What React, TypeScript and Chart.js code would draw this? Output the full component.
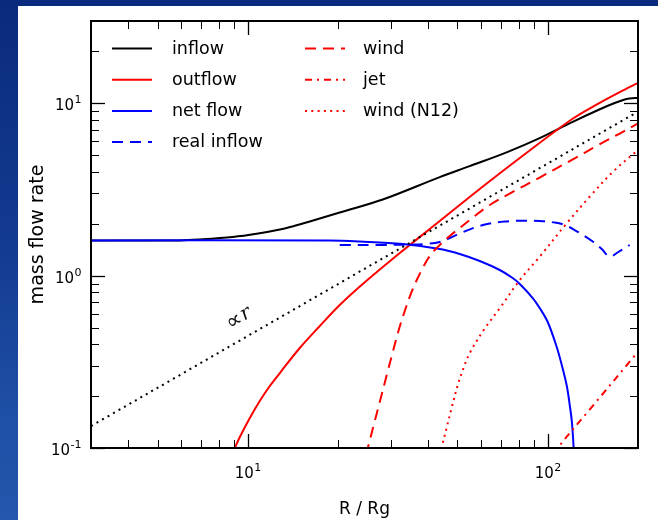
import { useEffect, useRef } from "react";
import { Chart, registerables } from "chart.js";

Chart.register(...registerables);

// R / Rg sample radii and mass flow rates for each curve
const inflowR = [3, 5.93, 6.92, 8.91, 10.7, 12.79, 14.34, 16.09, 20.25, 28.18, 43.65, 54.95, 73.28, 94.0, 120.7, 148.6, 167.2, 180.6, 190.5, 199.5];
const inflowRate = [1.6, 1.6, 1.62, 1.675, 1.748, 1.851, 1.945, 2.059, 2.323, 2.764, 3.73, 4.32, 5.21, 6.28, 7.78, 9.2, 10.03, 10.51, 10.68, 10.72];

const outflowR = [8.91, 9.05, 9.405, 10.155, 10.96, 11.84, 12.79, 14.9, 17.38, 20.25, 24.17, 32.12, 43.65, 59.34, 80.7, 120.7, 148.6, 173.8, 199.5];
const outflowRate = [0.0948, 0.1, 0.1158, 0.1493, 0.1874, 0.2289, 0.2723, 0.3802, 0.51, 0.675, 0.894, 1.352, 2.074, 3.18, 4.81, 8.1, 10.03, 11.61, 13.1];

const netR = [3, 18.77, 23.62, 32.86, 43.65, 50.89, 59.34, 69.18, 76.4, 80.7, 89.13, 94.0, 100, 106.9, 111.4, 115.8, 118.4, 120.2, 121.6, 122.6];
const netRate = [1.6, 1.598, 1.577, 1.525, 1.427, 1.335, 1.215, 1.078, 0.9685, 0.894, 0.7414, 0.6487, 0.5383, 0.3905, 0.3029, 0.2289, 0.1776, 0.1454, 0.1113, 0.0852];

const realInflowR = [20.25, 27.54, 34.67, 38.9, 43.65, 47.12, 50.89, 57.1, 64.07, 71.9, 80.7, 94.0, 105.5, 114.0, 123.0, 132.8, 141.3, 151.4, 160.9, 173.8, 187.6];
const realInflowRate = [1.505, 1.505, 1.515, 1.525, 1.566, 1.652, 1.755, 1.901, 2.005, 2.059, 2.082, 2.074, 2.032, 1.966, 1.839, 1.697, 1.577, 1.427, 1.291, 1.389, 1.505];

const windR = [24.74, 25.12, 26.3, 27.54, 29.06, 30.43, 31.86, 33.37, 34.94, 36.59, 38.31, 39.81, 41.69, 43.65, 47.12, 50.89, 57.1, 64.07, 74.7, 94.0, 118.4, 148.6, 173.8, 199.5];
const windRate = [0.0911, 0.1, 0.1362, 0.1851, 0.2651, 0.3603, 0.4836, 0.6233, 0.782, 0.943, 1.107, 1.248, 1.389, 1.505, 1.697, 1.888, 2.217, 2.568, 2.994, 3.707, 4.62, 5.762, 6.672, 7.625];

const jetR = [105.5, 108, 140, 199.5];
const jetRate = [0.091, 0.1, 0.172, 0.36];

const windN12R = [43.65, 44.32, 46.06, 47.86, 50.12, 52.48, 54.95, 61.66, 69.18, 80.7, 94.0, 115.7, 138.0, 164.7, 198.0];
const windN12Rate = [0.0911, 0.101, 0.1319, 0.1717, 0.2319, 0.2929, 0.3556, 0.4934, 0.6461, 0.943, 1.287, 2.011, 2.869, 3.991, 5.282];

// straight guide proportional to r
const propR = [3, 200];
const propRate = [0.134, 8.94];

// axis ticks
const xMajorTicks = [10, 100];
const xMajorExp = ["1", "2"];
const xMinorTicks = [4, 5, 6, 7, 8, 9, 20, 30, 40, 50, 60, 70, 80, 90];
const yMajorTicks = [0.1, 1, 10];
const yMajorExp = ["-1", "0", "1"];
const yMinorTicks = [0.2, 0.3, 0.4, 0.5, 0.6, 0.7, 0.8, 0.9, 2, 3, 4, 5, 6, 7, 8, 9, 20];

const RED = "#ff0000";
const BLUE = "#0000ff";
const BLACK = "#000000";
const SOLID: number[] = [];
const DASHED = [11, 7];
const DASHDOT = [7, 5, 2, 5];
const DOTTED = [2, 4.3];

const FONT = "DejaVu Sans";

const legendLeft = [
  { label: "inflow", color: BLACK, dash: SOLID },
  { label: "outflow", color: RED, dash: SOLID },
  { label: "net flow", color: BLUE, dash: SOLID },
  { label: "real inflow", color: BLUE, dash: DASHED },
];
const legendRight = [
  { label: "wind", color: RED, dash: DASHED },
  { label: "jet", color: RED, dash: DASHDOT },
  { label: "wind (N12)", color: RED, dash: DOTTED },
];

const pts = (r: number[], v: number[]) => r.map((x, i) => ({ x, y: v[i] }));

const line = (label: string, r: number[], v: number[], color: string, dash: number[]) => ({
  label,
  data: pts(r, v),
  borderColor: color,
  backgroundColor: color,
  borderWidth: 2,
  borderDash: dash,
  borderCapStyle: "butt" as const,
  pointRadius: 0,
  fill: false,
  tension: 0.35,
});

const decorations = {
  id: "decorations",
  afterDatasetsDraw(chart: any) {
    const { ctx, chartArea: a, scales } = chart;
    const xs = scales.x;
    const ys = scales.y;
    ctx.save();

    // inward ticks on all four sides
    ctx.strokeStyle = BLACK;
    ctx.setLineDash([]);
    const seg = (x1: number, y1: number, x2: number, y2: number, w: number) => {
      ctx.lineWidth = w;
      ctx.beginPath();
      ctx.moveTo(x1, y1);
      ctx.lineTo(x2, y2);
      ctx.stroke();
    };
    const xt = (v: number, len: number, w: number) => {
      const px = Math.round(xs.getPixelForValue(v)) + 0.5;
      seg(px, a.bottom, px, a.bottom - len, w);
      seg(px, a.top, px, a.top + len, w);
    };
    const yt = (v: number, len: number, w: number) => {
      const py = Math.round(ys.getPixelForValue(v)) + 0.5;
      seg(a.left, py, a.left + len, py, w);
      seg(a.right, py, a.right - len, py, w);
    };
    xMinorTicks.forEach((v) => xt(v, 8, 1));
    xMajorTicks.forEach((v) => xt(v, 14, 1.3));
    yMinorTicks.forEach((v) => yt(v, 8, 1));
    yMajorTicks.forEach((v) => yt(v, 14, 1.3));

    // frame
    ctx.lineWidth = 2;
    ctx.strokeRect(a.left, a.top, a.right - a.left, a.bottom - a.top);

    // power-of-ten tick labels
    ctx.fillStyle = BLACK;
    ctx.textBaseline = "alphabetic";
    ctx.textAlign = "left";
    const power = (exp: string, x: number, baseline: number, align: "center" | "right") => {
      ctx.font = `15px ${FONT}`;
      const wb = ctx.measureText("10").width;
      ctx.font = `11px ${FONT}`;
      const we = ctx.measureText(exp).width;
      const total = wb + we;
      const x0 = align === "center" ? x - total / 2 : x - total;
      ctx.font = `15px ${FONT}`;
      ctx.fillText("10", x0, baseline);
      ctx.font = `11px ${FONT}`;
      ctx.fillText(exp, x0 + wb + 0.5, baseline - 7);
    };
    xMajorTicks.forEach((v, i) => power(xMajorExp[i], xs.getPixelForValue(v), 478, "center"));
    yMajorTicks.forEach((v, i) => power(yMajorExp[i], 81, ys.getPixelForValue(v) + 7, "right"));

    // axis titles
    ctx.font = `17px ${FONT}`;
    ctx.textAlign = "center";
    ctx.fillText("R / Rg", (a.left + a.right) / 2, 514);
    ctx.save();
    ctx.translate(43, (a.top + a.bottom) / 2);
    ctx.rotate(-Math.PI / 2);
    ctx.font = `19px ${FONT}`;
    ctx.fillText("mass flow rate", 0, 0);
    ctx.restore();

    // legend, two columns without a box
    const rows = [48.5, 79.8, 111, 142];
    const drawEntry = (e: { label: string; color: string; dash: number[] }, x: number, y: number, tx: number) => {
      ctx.strokeStyle = e.color;
      ctx.lineWidth = 2;
      ctx.lineCap = "butt";
      ctx.setLineDash(e.dash);
      ctx.beginPath();
      ctx.moveTo(x, y);
      ctx.lineTo(x + 40, y);
      ctx.stroke();
      ctx.setLineDash([]);
      ctx.fillStyle = BLACK;
      ctx.font = `17.5px ${FONT}`;
      ctx.textAlign = "left";
      ctx.textBaseline = "middle";
      ctx.fillText(e.label, tx, y + 0.5);
    };
    legendLeft.forEach((e, i) => drawEntry(e, 112, rows[i], 172));
    legendRight.forEach((e, i) => drawEntry(e, 305, rows[i], 363));

    // label along the proportional guide
    ctx.save();
    ctx.translate(239, 319);
    ctx.rotate(-Math.atan2(172.4, 300));
    ctx.fillStyle = "#111";
    ctx.textBaseline = "middle";
    ctx.textAlign = "left";
    ctx.font = `22px ${FONT}`;
    const wp = ctx.measureText("\u221d").width;
    ctx.font = `italic 20px "DejaVu Serif"`;
    const wr = ctx.measureText("r").width;
    const start = -(wp + wr + 1) / 2;
    ctx.font = `22px ${FONT}`;
    ctx.fillText("\u221d", start, 0);
    ctx.font = `italic 20px "DejaVu Serif"`;
    ctx.fillText("r", start + wp + 1, -1);
    ctx.restore();

    ctx.restore();
  },
};

export default function App() {
  const canvasRef = useRef<HTMLCanvasElement | null>(null);

  useEffect(() => {
    const canvas = canvasRef.current;
    if (!canvas) return;
    const chart = new Chart(canvas, {
      type: "line",
      data: {
        datasets: [
          line("∝r", propR, propRate, BLACK, DOTTED),
          line("wind (N12)", windN12R, windN12Rate, RED, DOTTED),
          line("jet", jetR, jetRate, RED, DASHDOT),
          line("wind", windR, windRate, RED, DASHED),
          line("real inflow", realInflowR, realInflowRate, BLUE, DASHED),
          line("net flow", netR, netRate, BLUE, SOLID),
          line("outflow", outflowR, outflowRate, RED, SOLID),
          line("inflow", inflowR, inflowRate, BLACK, SOLID),
        ],
      },
      options: {
        animation: false,
        responsive: false,
        maintainAspectRatio: false,
        devicePixelRatio: 1,
        layout: { padding: { left: 91, top: 21, right: 20, bottom: 72 } },
        scales: {
          x: { type: "logarithmic", min: 3, max: 200, display: false },
          y: { type: "logarithmic", min: 0.1, max: 30, display: false },
        },
        plugins: {
          legend: { display: false },
          tooltip: { enabled: false },
        },
        events: [],
      },
      plugins: [decorations],
    });
    return () => chart.destroy();
  }, []);

  return (
    <div
      style={{
        position: "fixed",
        left: 0,
        top: 0,
        width: 658,
        height: 520,
        overflow: "hidden",
        background: "linear-gradient(180deg, #0a2b7d 0%, #123a8f 45%, #1f4fa6 80%, #2457ad 100%)",
      }}
    >
      <div
        style={{
          position: "absolute",
          left: 18,
          top: 6,
          right: 0,
          bottom: 0,
          background: "#ffffff",
        }}
      />
      <canvas
        ref={canvasRef}
        width={658}
        height={520}
        style={{ position: "absolute", left: 0, top: 0 }}
      />
    </div>
  );
}
